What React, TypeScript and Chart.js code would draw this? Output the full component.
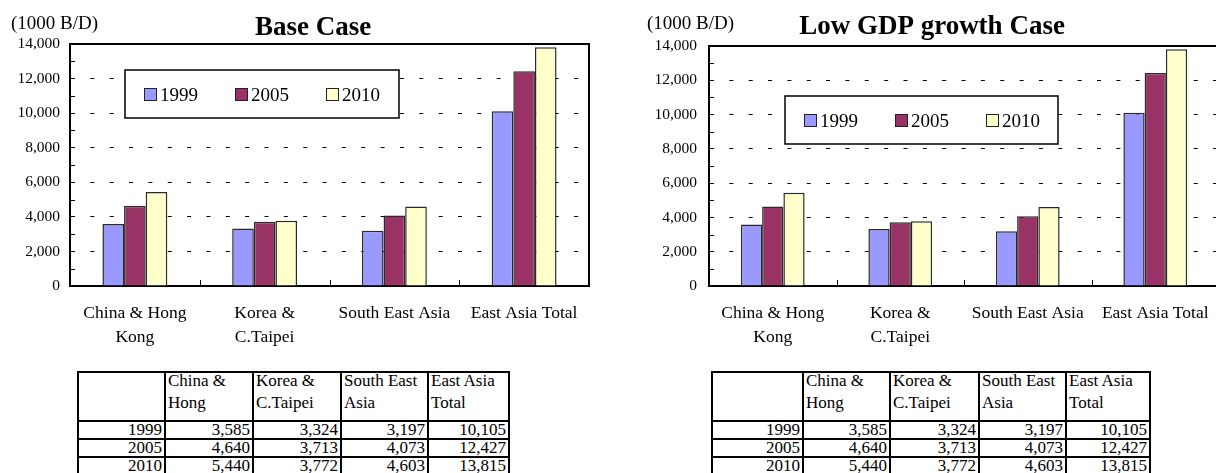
import React, { useEffect, useRef } from 'react';
import { Chart, registerables } from 'chart.js';

Chart.register(...registerables);

// ---------- data ----------
const categories: (string | string[])[] = [
  ['China & Hong', 'Kong'],
  ['Korea &', 'C.Taipei'],
  'South East Asia',
  'East Asia Total',
];
const tableColumns: string[][] = [
  ['China &', 'Hong'],
  ['Korea &', 'C.Taipei'],
  ['South East', 'Asia'],
  ['East Asia', 'Total'],
];
const seriesNames = ['1999', '2005', '2010'];
const base1999 = [3585, 3324, 3197, 10105];
const base2005 = [4640, 3713, 4073, 12427];
const base2010 = [5440, 3772, 4603, 13815];
const low1999 = [3585, 3324, 3197, 10105];
const low2005 = [4640, 3713, 4073, 12427];
const low2010 = [5440, 3772, 4603, 13815];
const seriesColors = ['#9999FF', '#993366', '#FFFFCC'];
const yMin = 0;
const yMax = 14000;
const yStep = 2000;
const yMinorStep = 1000;
const unitText = '(1000 B/D)';
const titleBase = 'Base Case';
const titleLow = 'Low GDP growth Case';

const FONT = "'Liberation Serif', 'Times New Roman', serif";

type Layout = {
  pageLeft: number;
  canvasW: number;
  canvasH: number;
  left: number;
  right: number;
  top: number;
  bottom: number;
  yPad: number;
  legend: { dx: number; dy: number; w: number; h: number };
  titleX: number;
  titleY: number;
  unitX: number;
  unitY: number;
};

const X_AXIS_H = 62;

function ChartPanel({ title, series, L }: { title: string; series: number[][]; L: Layout }) {
  const ref = useRef<HTMLCanvasElement | null>(null);
  useEffect(() => {
    if (!ref.current) return;
    const decor = {
      id: 'decor',
      afterDraw(chart: any) {
        const { ctx, chartArea: ca } = chart;
        const xs = chart.scales.x;
        const ys = chart.scales.y;
        ctx.save();
        // frame top & right
        ctx.strokeStyle = '#000';
        ctx.lineWidth = 2;
        ctx.beginPath();
        ctx.moveTo(ca.left, ca.top);
        ctx.lineTo(ca.right, ca.top);
        ctx.lineTo(ca.right, ca.bottom);
        ctx.stroke();
        // minor y ticks (inward)
        ctx.lineWidth = 1;
        for (let v = yMin + yMinorStep; v < yMax; v += 2 * yMinorStep) {
          const py = Math.round(ys.getPixelForValue(v)) + 0.5;
          ctx.beginPath();
          ctx.moveTo(ca.left, py);
          ctx.lineTo(ca.left + 5, py);
          ctx.stroke();
        }
        // category boundary ticks (inward)
        for (let i = 1; i < categories.length; i++) {
          const px = Math.round((xs.getPixelForTick(i - 1) + xs.getPixelForTick(i)) / 2) + 0.5;
          ctx.beginPath();
          ctx.moveTo(px, ca.bottom);
          ctx.lineTo(px, ca.bottom - 6);
          ctx.stroke();
        }
        // legend
        const bx = Math.round(ca.left + L.legend.dx);
        const by = Math.round(ca.top + L.legend.dy);
        ctx.fillStyle = '#fff';
        ctx.fillRect(bx, by, L.legend.w, L.legend.h);
        ctx.strokeStyle = '#000';
        ctx.lineWidth = 1.5;
        ctx.strokeRect(bx, by, L.legend.w, L.legend.h);
        chart.data.datasets.forEach((ds: any, i: number) => {
          const sx = bx + 19 + i * 91;
          const sy = by + 18;
          ctx.fillStyle = ds.backgroundColor;
          ctx.fillRect(sx, sy, 12, 12);
          ctx.strokeStyle = '#222';
          ctx.lineWidth = 1;
          ctx.strokeRect(sx + 0.5, sy + 0.5, 12, 12);
          ctx.fillStyle = '#000';
          ctx.font = `19px ${FONT}`;
          ctx.textAlign = 'left';
          ctx.textBaseline = 'alphabetic';
          ctx.fillText(ds.label, sx + 16, by + 30.5);
        });
        // title & unit
        ctx.fillStyle = '#000';
        ctx.textBaseline = 'alphabetic';
        ctx.font = `bold 27px ${FONT}`;
        ctx.textAlign = 'center';
        ctx.fillText(title, L.titleX, L.titleY);
        ctx.font = `19px ${FONT}`;
        ctx.textAlign = 'left';
        ctx.fillText(unitText, L.unitX, L.unitY);
        ctx.restore();
      },
    };

    const chart = new Chart(ref.current, {
      type: 'bar',
      data: {
        labels: categories as any,
        datasets: seriesNames.map((n, i) => ({
          label: n,
          data: series[i],
          backgroundColor: seriesColors[i],
          borderColor: '#2a2a2a',
          borderWidth: 1.5,
          barPercentage: 1,
          categoryPercentage: 0.5,
        })),
      },
      options: {
        animation: false,
        responsive: false,
        maintainAspectRatio: false,
        layout: {
          padding: {
            left: 0,
            top: L.top,
            right: L.canvasW - L.right,
            bottom: L.canvasH - L.bottom - X_AXIS_H,
          },
        },
        plugins: {
          legend: { display: false },
          tooltip: { enabled: false },
          title: { display: false },
        },
        scales: {
          x: {
            type: 'category',
            offset: true,
            z: 1,
            grid: { display: false, drawTicks: false },
            border: { display: true, color: '#000', width: 2 },
            ticks: {
              color: '#000',
              font: { family: FONT, size: 17.5, lineHeight: 24 / 17.5 },
              padding: 15,
              maxRotation: 0,
              minRotation: 0,
              autoSkip: false,
            },
            afterFit: (s: any) => {
              s.height = X_AXIS_H;
            },
          },
          y: {
            min: yMin,
            max: yMax,
            grid: { color: '#000', lineWidth: 1, drawTicks: false },
            border: { display: true, color: '#000', width: 2, dash: [4, 15.35], dashOffset: 0 },
            ticks: {
              stepSize: yStep,
              padding: L.yPad,
              color: '#000',
              font: { family: FONT, size: 15.5 },
              callback: (v: any) => Number(v).toLocaleString('en-US'),
            },
            afterFit: (s: any) => {
              s.width = L.left;
            },
          },
        },
      } as any,
      plugins: [decor],
    });
    return () => chart.destroy();
  }, [title, series, L]);

  return (
    <canvas
      ref={ref}
      width={L.canvasW}
      height={L.canvasH}
      style={{ position: 'absolute', left: L.pageLeft, top: 0, display: 'block' }}
    />
  );
}

function DataTable({ left, top, widths, rows }: { left: number; top: number; widths: number[]; rows: number[][] }) {
  const cell: React.CSSProperties = {
    border: '2px solid #000',
    padding: '0 2px',
    fontFamily: FONT,
    fontSize: 17,
    lineHeight: '16px',
    height: 16,
    whiteSpace: 'nowrap',
    overflow: 'hidden',
    color: '#000',
  };
  const total = widths.reduce((a, b) => a + b, 0);
  return (
    <table
      style={{
        position: 'absolute',
        left,
        top,
        borderCollapse: 'collapse',
        tableLayout: 'fixed',
        width: total,
      }}
    >
      <colgroup>
        {widths.map((w, i) => (
          <col key={i} style={{ width: w }} />
        ))}
      </colgroup>
      <tbody>
        <tr>
          <td style={{ ...cell, height: 47, verticalAlign: 'top' }}></td>
          {tableColumns.map((c, i) => (
            <td key={i} style={{ ...cell, height: 47, verticalAlign: 'top', textAlign: 'left' }}>
              <div style={{ position: 'relative', top: -3, lineHeight: '22px' }}>
                {c[0]}
                <br />
                {c[1]}
              </div>
            </td>
          ))}
        </tr>
        {seriesNames.map((n, r) => (
          <tr key={n}>
            <td style={{ ...cell, textAlign: 'right' }}>{n}</td>
            {rows[r].map((v, i) => (
              <td key={i} style={{ ...cell, textAlign: 'right' }}>
                {v.toLocaleString('en-US')}
              </td>
            ))}
          </tr>
        ))}
      </tbody>
    </table>
  );
}

const leftLayout: Layout = {
  pageLeft: 0,
  canvasW: 608,
  canvasH: 365,
  left: 70,
  right: 589,
  top: 44,
  bottom: 286,
  yPad: 10,
  legend: { dx: 55, dy: 26, w: 274, h: 48 },
  titleX: 313,
  titleY: 35,
  unitX: 11,
  unitY: 28.5,
};

const rightLayout: Layout = {
  pageLeft: 608,
  canvasW: 622,
  canvasH: 365,
  left: 101,
  right: 611,
  top: 46,
  bottom: 286,
  yPad: 12,
  legend: { dx: 76, dy: 50, w: 273, h: 48 },
  titleX: 324,
  titleY: 34,
  unitX: 39,
  unitY: 28.5,
};

const baseSeries = [base1999, base2005, base2010];
const lowSeries = [low1999, low2005, low2010];

export default function App() {
  return (
    <div
      style={{
        position: 'absolute',
        left: 0,
        top: 0,
        width: 1216,
        height: 473,
        overflow: 'hidden',
        background: '#fff',
      }}
    >
      <ChartPanel title={titleBase} series={baseSeries} L={leftLayout} />
      <ChartPanel title={titleLow} series={lowSeries} L={rightLayout} />
      <DataTable left={77} top={371} widths={[87, 88, 88, 87, 81]} rows={baseSeries} />
      <DataTable left={711} top={371} widths={[91, 87, 89, 87, 84]} rows={lowSeries} />
    </div>
  );
}
